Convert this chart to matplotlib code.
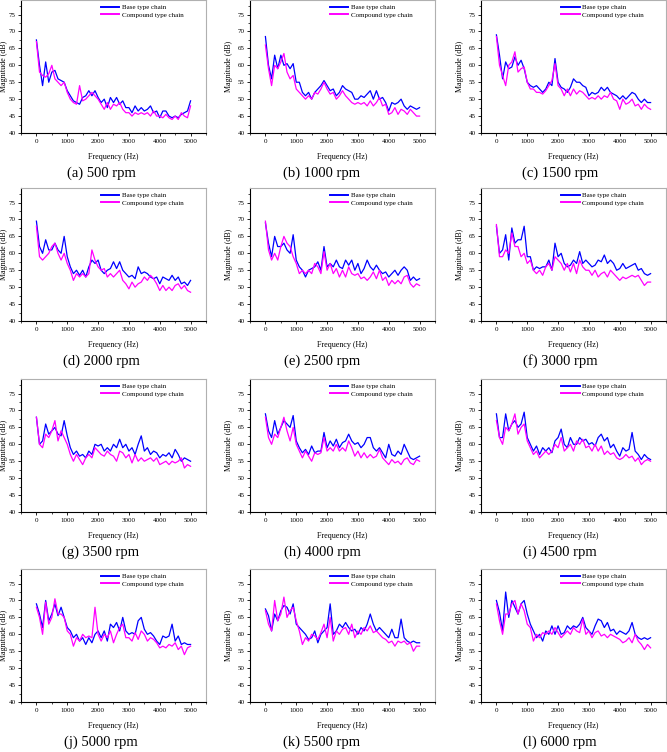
import numpy as np
import matplotlib
matplotlib.use("Agg")
import matplotlib.pyplot as plt
from matplotlib.ticker import MultipleLocator

plt.rcParams["font.family"] = ["Liberation Serif", "DejaVu Serif"]

# -------------------------------------------------------------------------
# Data (magnitude in dB, read every 100 Hz from 0 to 5000 Hz)
# -------------------------------------------------------------------------

freq = np.arange(0, 5001, 100)

speeds = [500, 1000, 1500, 2000, 2500, 3000, 3500, 4000, 4500, 5000, 5500, 6000]
letters = ["a", "b", "c", "d", "e", "f", "g", "h", "i", "j", "k", "l"]
series_names = ["Base type chain", "Compound type chain"]

base_500 = [67.5, 60, 54, 61, 55, 58, 58.5, 56, 55.5, 55, 52.5, 51, 49.5, 49, 48.5, 50.5, 51, 52.5, 51, 52.5,
            50.5, 49, 50, 47.5, 50.5, 49, 50.5, 48.5, 49.5, 47.5, 47.5, 46, 48, 46.5, 47.5, 46.5, 47, 48, 46, 46.5,
            44.5, 46.5, 46.5, 45, 44.5, 45, 44.5, 45.5, 46, 46.5, 49.5]
comp_500 = [67, 58, 57, 56.5, 57.5, 60, 56, 55, 54, 55, 52, 50, 49, 48.5, 54, 49.5, 50, 51, 52, 51,
            50, 48.5, 47, 49, 47, 48.5, 48, 49, 47, 46, 46, 45, 46, 45.5, 46, 45.5, 46, 45, 46.5, 45,
            45, 44.5, 45.5, 44.5, 44, 45, 44, 46, 45, 44.5, 48]

base_1000 = [68.5, 60, 56, 63, 59, 63, 60, 60.5, 59, 60.5, 55, 55, 52, 51, 52, 50, 52, 53, 54, 55.5,
             54, 52.5, 53, 51, 52, 54, 53, 52.5, 52, 50, 50, 51, 50.5, 51.5, 52.5, 50, 52.5, 50, 50.5, 49,
             46.5, 49, 48.5, 49, 50, 48, 47, 48, 47.5, 47, 47.5]
comp_1000 = [66, 59, 54, 60, 59, 61, 63.5, 58, 56, 57, 53, 52, 51, 50, 51, 50, 52, 51.5, 53, 55,
             53, 51.5, 52, 50, 51, 52.5, 51, 50, 49, 48.5, 49, 48.5, 49, 48, 49.5, 48, 49, 50.5, 48, 48.5,
             45.5, 46, 47.5, 45.5, 47, 46.5, 45.5, 47, 46, 45, 45]

base_1500 = [69, 63, 56, 61, 59, 59.5, 62.5, 60, 61.5, 59, 55, 54, 53.5, 54, 53, 52, 53, 55, 54, 62,
             55, 53.5, 53, 52, 53.5, 56, 55, 55, 54, 53.5, 51, 52, 51.5, 52, 53.5, 52.5, 53.5, 52, 51.5, 51,
             50, 51, 50, 51, 52, 51.5, 50, 49, 50, 49, 49]
comp_1500 = [68.5, 60, 57, 54, 60, 61, 64, 58, 59, 59.5, 55, 53, 53, 52, 52, 51.5, 52.5, 54, 55.5, 60.5,
             54, 53, 51, 53, 51, 53, 51.5, 52.5, 52, 51, 50, 50.5, 50, 51, 50, 51, 50.5, 52, 50, 49.5,
             47, 50, 48.5, 49, 50, 48, 48.5, 47, 48.5, 47.5, 47]

base_2000 = [69.5, 62, 60, 64, 61, 61, 63, 61, 60, 65, 59, 56, 54, 55, 53.5, 55, 53, 56, 58, 57,
             58, 55, 54, 55, 55.5, 57.5, 55.5, 57.5, 55, 54, 53, 53.5, 52.5, 56, 54, 54.5, 54, 53, 52.5, 53,
             51, 53, 52.5, 52, 53.5, 52, 53, 51, 51.5, 50.5, 52]
comp_2000 = [68, 59, 58, 59, 60, 62, 63, 60, 58, 60, 57, 55, 52, 54, 53, 54, 53, 54, 61, 58,
             56, 55, 55.5, 53, 54, 53, 54, 55, 52, 51, 49.5, 51.5, 50, 51, 51.5, 53, 52, 53.5, 52.5, 51,
             49, 50.5, 49, 50, 49, 50.5, 51, 49.5, 50.5, 49, 48.5]

base_2500 = [69, 63, 59, 65, 62, 62, 63, 61, 60, 65.5, 58, 56, 55, 53, 55, 55.5, 56, 57.5, 55, 62,
             56, 57, 56, 58, 56, 55.5, 58, 56.5, 58, 55, 57, 54, 55.5, 58, 56, 55, 56.5, 55, 54, 54.5,
             53, 54, 55, 53.5, 55, 56, 55, 52, 53, 52, 52.5]
comp_2500 = [69.5, 61, 58, 60, 58, 62, 65, 63, 62, 59, 57, 54, 55, 54, 55, 54, 57, 56, 54, 60.5,
             55, 57, 54, 55.5, 53, 55, 53, 56, 54, 53.5, 54, 52.5, 53, 52, 53, 54.5, 52.5, 55, 52, 53,
             50.5, 52, 51, 52, 51, 53, 53.5, 51, 50, 51, 50.5]

base_3000 = [68, 60, 61, 65.5, 58, 67.5, 63, 64, 64, 68, 59, 59, 55, 56, 55.5, 56, 56, 58, 55, 63,
             59, 60, 57, 56, 56.5, 58, 57, 60.5, 57, 58, 57, 56, 56.5, 58, 57.5, 59.5, 57, 58, 57, 55,
             55.5, 57, 55.5, 56, 56.5, 57, 55, 55.5, 54, 53.5, 54]
comp_3000 = [68.5, 59, 59, 61, 60, 66, 62, 62, 59, 60, 57, 58, 55, 54, 55, 53.5, 56, 57, 55, 59,
             58, 57, 55, 57, 54.5, 57, 54, 58, 56, 55, 55, 53.5, 55, 53, 54, 54.5, 53, 55, 54, 53,
             52, 53, 52.5, 53, 53.5, 53, 53.5, 52, 50.5, 51.5, 51.5]

base_3500 = [68, 60, 61, 66, 63, 64, 65, 63, 62.5, 67, 62.5, 59, 57, 58, 56.5, 57, 56, 58, 57, 60,
             59.5, 60, 58, 59, 58, 60, 59, 61.5, 59, 60, 58, 59, 57, 60, 62.5, 58, 59, 57, 58, 57.5,
             56, 57, 56.5, 57.5, 56, 58.5, 57, 55, 56, 55.5, 55]
comp_3500 = [68, 60, 59, 63, 62, 64, 67, 61, 64, 62, 60, 57, 55, 57, 55.5, 54, 56, 57, 56, 59,
             58, 57, 56.5, 58, 57, 56.5, 55, 58, 57.5, 56, 57, 54.5, 57, 55, 56, 55, 55.5, 56, 55, 56,
             54, 54.5, 55, 54, 55, 54.5, 55, 56, 53, 54, 53.5]

base_4000 = [69, 64, 62, 67, 63, 65, 67, 66, 65, 68.5, 61, 59, 57.5, 58.5, 57, 59.5, 57.5, 58, 58, 63.5,
             59, 61, 59.5, 61.5, 59, 60.5, 61, 63, 61, 60, 60.5, 59, 60, 62, 62, 59, 58, 59, 57.5, 56,
             60, 57, 56.5, 58, 57, 60, 58, 56, 55.5, 56, 56.5]
comp_4000 = [68, 62, 60, 63, 62, 65, 68, 64, 61, 65, 60, 58, 56, 58, 56.5, 55, 57.5, 57, 57.5, 62,
             58, 59, 58, 60, 58, 59, 58, 61, 59, 56.5, 58, 56, 57.5, 56, 57, 56, 56.5, 58.5, 56, 55,
             54, 55.5, 54.5, 55, 54, 55.5, 56, 54.5, 54, 55.5, 55]

base_4500 = [69, 62, 62, 69, 64, 66, 67, 65, 66, 69.5, 62, 60, 58, 59.5, 57, 59, 58, 59, 57.5, 61,
             62, 64.5, 60, 59, 62, 60, 60, 62, 61, 61.5, 60, 60.5, 59.5, 62, 63, 61, 62, 59, 60, 58,
             56.5, 59, 58, 58.5, 63.5, 58, 57, 55.5, 57, 56, 55.5]
comp_4500 = [67, 62, 60, 65, 64, 66, 69, 63, 65, 66, 61, 59, 57, 58, 56, 57, 58, 57, 58, 60,
             59, 62, 58, 59, 60, 58, 61, 60, 61.5, 59, 59.5, 58, 60, 58, 59.5, 57, 58, 57, 57.5, 56,
             55.5, 56, 57, 56, 56.5, 55, 56, 54, 55, 55.5, 55]

base_5000 = [69, 66, 62, 70, 64, 66, 69, 65.5, 68, 65, 62, 61, 59, 60, 58, 59, 57, 59, 57.5, 60,
             61, 59, 61, 58, 63, 62, 63.5, 61, 65, 61, 60, 60.5, 60, 64, 65, 61.5, 60, 60.5, 59.5, 58,
             57, 59.5, 59, 59.5, 63, 58, 59.5, 57, 57.5, 57, 57]
comp_5000 = [68, 65, 60, 69.5, 63, 65, 70.5, 66, 66, 65, 61, 60, 56.5, 59, 58, 60, 59, 59.5, 59, 68,
             60, 58, 60, 59, 61, 57.5, 60, 62, 63, 59, 59, 58, 60.5, 58.5, 61, 60, 58, 59, 58.5, 57.5,
             56, 56.5, 56, 57, 56.5, 57.5, 55.5, 56.5, 54, 56, 56.5]

base_5500 = [67.5, 65.5, 61, 66, 64, 67, 68.5, 68, 66, 69, 63, 62, 61, 60, 58.5, 59, 61, 57.5, 60, 61,
             62, 69, 60, 61, 63, 62, 63.5, 62, 61, 61.5, 60, 62, 61, 63, 66, 63, 61, 62, 61, 60,
             59, 61.5, 59, 59, 64.5, 59, 58, 57.5, 58, 57.5, 57.5]
comp_5500 = [67, 63, 61, 70, 64, 66, 71, 65, 67, 68, 64, 61, 57, 59, 58, 60, 59.5, 58.5, 60.5, 63,
             59, 65, 58, 61, 60, 61.5, 62, 60, 63, 59, 61, 60, 62, 61, 62.5, 60.5, 61, 60, 59, 58.5,
             57.5, 58, 56.5, 58, 57.5, 58, 57, 57.5, 55, 56.5, 56.5]

base_6000 = [70, 66.5, 61, 72.5, 65, 70, 68, 66, 69, 70, 66, 63, 61, 59, 60, 58, 61, 60, 62.5, 60,
             62.5, 60, 60.5, 62.5, 61.5, 62.5, 62, 63, 65, 62, 61, 60, 62.5, 64.5, 64, 62, 63.5, 61, 61.5, 60,
             61, 60.5, 60, 61, 63.5, 60, 59, 58.5, 59, 58.5, 59]
comp_6000 = [69, 64, 60, 66, 66, 69, 70, 66, 69, 67, 63, 62, 58, 60, 59, 60.5, 60, 61, 60, 62,
             60.5, 59, 60, 61, 60, 62, 61, 60.5, 64.5, 60, 61, 59, 60.5, 61, 59.5, 60, 59, 60, 59.5, 59,
             58.5, 57.5, 58, 59, 57.5, 60, 58, 57, 55.5, 57, 56]

base_all = [base_500, base_1000, base_1500, base_2000, base_2500, base_3000,
            base_3500, base_4000, base_4500, base_5000, base_5500, base_6000]
comp_all = [comp_500, comp_1000, comp_1500, comp_2000, comp_2500, comp_3000,
            comp_3500, comp_4000, comp_4500, comp_5000, comp_5500, comp_6000]

# -------------------------------------------------------------------------
# Layout (pixel positions of the panels in a 667 x 752 figure)
# -------------------------------------------------------------------------

W, H = 667, 752
col_left = [21, 250, 481]
col_caption = [101, 322, 560]
col_ylabel_x = [-0.072, -0.09, -0.09]
row_top = [0, 188, 379, 569]
ax_w, ax_h = 185, 133
caption_gap = 40

fig = plt.figure(figsize=(W / 100, H / 100), dpi=100)

for i, (speed, letter) in enumerate(zip(speeds, letters)):
    r, c = divmod(i, 3)
    left = col_left[c]
    bottom = row_top[r] + ax_h
    ax = fig.add_axes([left / W, 1 - bottom / H, ax_w / W, ax_h / H])

    ax.plot(freq, base_all[i], color="#0000FF", linewidth=0.9, label=series_names[0])
    ax.plot(freq, comp_all[i], color="#FF00FF", linewidth=0.9, label=series_names[1])

    ax.set_xlim(-500, 5500)
    ax.set_ylim(40, 79.3)
    ax.xaxis.set_major_locator(MultipleLocator(1000))
    ax.xaxis.set_minor_locator(MultipleLocator(500))
    ax.yaxis.set_major_locator(MultipleLocator(5))
    ax.yaxis.set_minor_locator(MultipleLocator(2.5))
    ax.tick_params(which="major", direction="out", length=2.5, width=0.6,
                   labelsize=5, pad=1.5)
    ax.tick_params(which="minor", direction="out", length=1.5, width=0.5)

    for side in ["left", "bottom"]:
        ax.spines[side].set_color("black")
        ax.spines[side].set_linewidth(0.8)
    for side in ["top", "right"]:
        ax.spines[side].set_color("#b0b0b0")
        ax.spines[side].set_linewidth(0.8)

    ax.set_xlabel("Frequency (Hz)", fontsize=5.8)
    ax.set_ylabel("Magnitude (dB)", fontsize=5.8)
    ax.xaxis.set_label_coords(0.5, -0.15)
    ax.yaxis.set_label_coords(col_ylabel_x[c], 0.5)

    leg = ax.legend(loc="upper right", fontsize=5, frameon=False,
                    handlelength=2.6, handletextpad=0.3, labelspacing=0.25,
                    borderaxespad=0.2, bbox_to_anchor=(0.9, 1.0))
    for line in leg.get_lines():
        line.set_linewidth(1.4)

    fig.text(col_caption[c] / W, 1 - (row_top[r] + ax_h + caption_gap) / H,
             f"({letter}) {speed} rpm", fontsize=10.5, ha="center", va="center")

fig.savefig("out.png", dpi=100)
